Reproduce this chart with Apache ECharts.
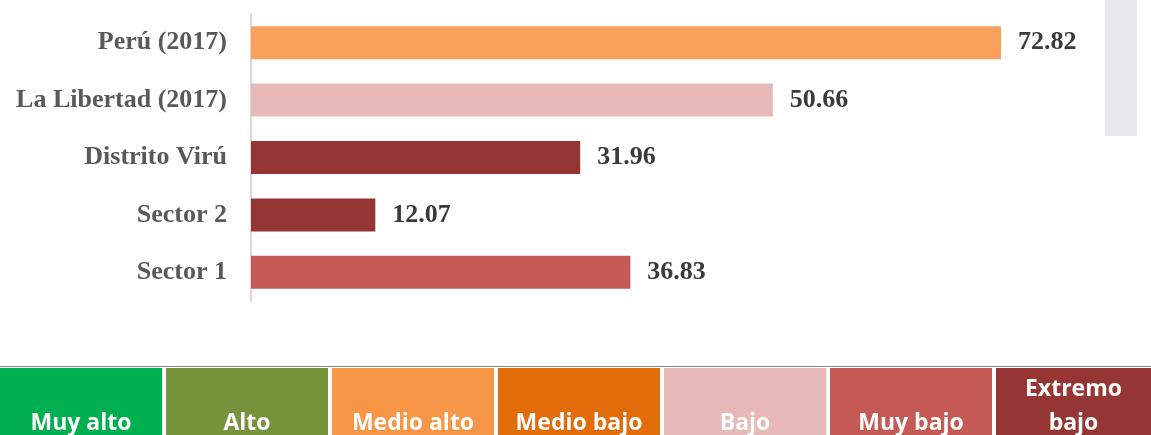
<!DOCTYPE html>
<html>
<head>
<meta charset="utf-8">
<script src="https://cdn.jsdelivr.net/npm/echarts@6/dist/echarts.min.js"></script>
<style>
  html, body { margin: 0; padding: 0; background: #fff; }
  #chart { width: 1151px; height: 435px; }
</style>
</head>
<body>
<div id="chart"></div>
<script>
// categories listed bottom -> top (category axis is inverted visually)
const categories = ['Sector 1', 'Sector 2', 'Distrito Virú', 'La Libertad (2017)', 'Perú (2017)']
const values = [36.83, 12.07, 31.96, 50.66, 72.82]
const barColors = ['#C55a55', '#963634', '#963634', '#E6B8B7', '#F8A05C']

const legendLabels = ['Muy alto', 'Alto', 'Medio alto', 'Medio bajo', 'Bajo', 'Muy bajo', 'Extremo\nbajo']
const legendColors = ['#00B050', '#77933C', '#F79646', '#E26B0A', '#E6B8B7', '#C55A55', '#963634']

const chart = echarts.init(document.getElementById('chart'))

// legend strip at the bottom
const boxW = 162
const gap = 4
const legendGraphics = legendLabels.map((txt, i) => {
  const x = i * (boxW + gap)
  const w = i === legendLabels.length - 1 ? 1151 - x : boxW
  return {
    type: 'group',
    left: x,
    top: 368,
    children: [
      { type: 'rect', shape: { x: 0, y: 0, width: w, height: 70 }, style: { fill: legendColors[i] } },
      {
        type: 'text',
        x: w / 2,
        y: 72,
        style: {
          text: txt,
          fill: '#fff',
          font: 'bold 23px "Open Sans", "Noto Sans", sans-serif',
          align: 'center',
          verticalAlign: 'bottom',
          lineHeight: 34
        }
      }
    ]
  }
})

chart.setOption({
  animation: false,
  grid: { left: 251, right: 76, top: 14, bottom: 134 },
  xAxis: {
    type: 'value',
    min: 0,
    max: 80,
    show: false
  },
  yAxis: {
    type: 'category',
    data: categories,
    axisLine: { show: true, lineStyle: { color: '#d9d9d9', width: 2 } },
    axisTick: { show: false },
    axisLabel: {
      margin: 24,
      color: '#595959',
      fontFamily: '"Liberation Serif", "Times New Roman", serif',
      fontWeight: 'bold',
      fontSize: 26
    }
  },
  series: [
    {
      type: 'bar',
      barWidth: 33,
      data: values.map((v, i) => ({ value: v, itemStyle: { color: barColors[i] } })),
      label: {
        show: true,
        position: 'right',
        distance: 17,
        formatter: p => p.value.toFixed(2),
        color: '#3a3a3a',
        fontFamily: '"Liberation Serif", "Times New Roman", serif',
        fontWeight: 'bold',
        fontSize: 26
      }
    }
  ],
  graphic: [
    {
      type: 'rect',
      left: 1105,
      top: 0,
      shape: { width: 32, height: 136 },
      style: { fill: '#e6e8ec' }
    },
    {
      type: 'rect',
      left: 0,
      top: 366,
      shape: { width: 1151, height: 1 },
      style: { fill: '#888' }
    },
    ...legendGraphics
  ]
})
</script>
</body>
</html>
